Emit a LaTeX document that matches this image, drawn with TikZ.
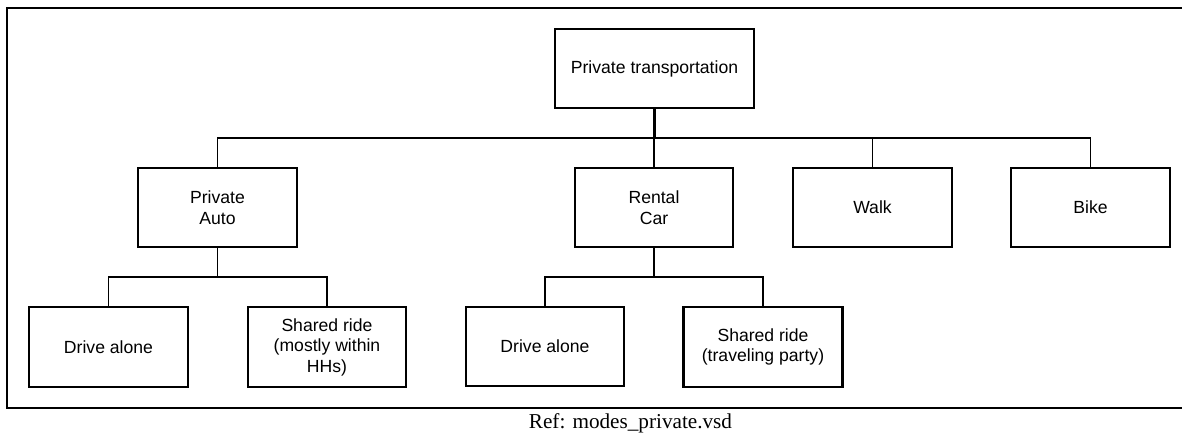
\documentclass[tikz,border=0pt]{standalone}
\usepackage{fontspec}
\setmainfont{Liberation Sans}
\newfontfamily\capfont{Liberation Serif}
\begin{document}
\begin{tikzpicture}[x=1pt,y=-1pt,
  box/.style={draw=black, line width=2.3pt, rectangle, minimum width=159pt, minimum height=79pt,
    inner sep=0pt, align=center, font=\fontsize{17.6}{20.5}\selectfont},
  conn/.style={draw=black, line width=1.8pt},
  stem/.style={draw=black, line width=2.6pt}]
\useasboundingbox (0,0) rectangle (1182,434);
\draw[line width=2.5pt] (7,8) rectangle (1195,408);
% nodes
\node[box, minimum width=199pt] (root) at (654.5,68.5) {Private transportation};
\node[box] (pauto) at (217.5,207.5) {Private\\Auto};
\node[box, minimum width=158pt] (rental) at (654,207.5) {Rental\\Car};
\node[box] (walk) at (872.5,207.5) {Walk};
\node[box] (bike) at (1090.5,207.5) {Bike};
\node[box, minimum height=80pt] (da1) at (108.5,347) {Drive alone};
\node[box, minimum width=158pt, minimum height=80pt] (sr1) at (327,347) {Shared ride\\(mostly within\\HHs)};
\node[box, minimum width=158pt] (da2) at (545,346.5) {Drive alone};
\node[box, minimum height=80pt] (sr2) at (763,347) {Shared ride\\(traveling party)};
% bus coordinates
\coordinate (b1) at (654.5,138);
\coordinate (b2) at (0,277);
% level 1 connectors
\draw[stem] (root.south) -- (b1);
\draw[conn] (pauto.north) |- (bike.north |- b1) -- (bike.north);
\draw[conn] (rental.north) -- (rental.north |- b1);
\draw[conn] (walk.north) -- (walk.north |- b1);
% level 2 connectors
\draw[conn] (pauto.south) -- (pauto.south |- b2);
\draw[conn] (da1.north) |- (sr1.north |- b2) -- (sr1.north);
\draw[conn] (rental.south) -- (rental.south |- b2);
\draw[conn] (da2.north) |- (sr2.north |- b2) -- (sr2.north);
% caption
\node[anchor=base, inner sep=0pt, font=\capfont\fontsize{21.2}{24}\selectfont] (cap) at (630.5,428) {Ref: modes\_private.vsd};
\end{tikzpicture}
\end{document}
